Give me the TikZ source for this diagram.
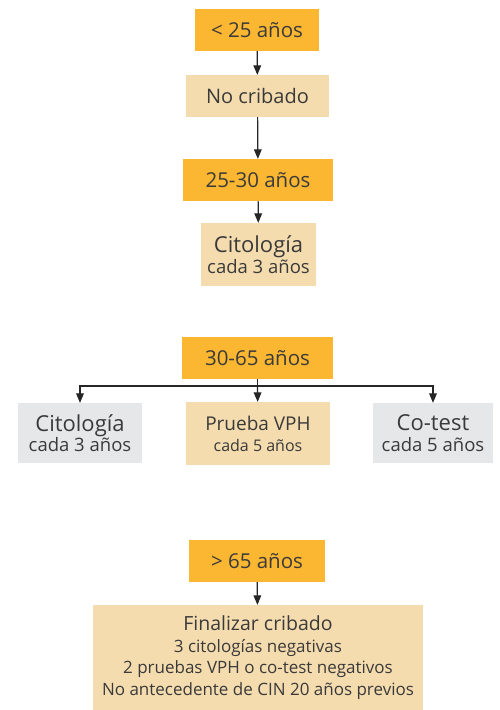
\documentclass[tikz,border=0pt]{standalone}
\usepackage{fontspec}
\setmainfont{Open Sans}
\usepackage{tikz}
\usetikzlibrary{positioning,shapes,arrows}
\usepackage{xcolor}
\definecolor{edad}{HTML}{FBB731}
\definecolor{crema}{HTML}{F4DCAF}
\definecolor{gris}{HTML}{E6E7E8}
\definecolor{texto}{HTML}{3A3A3A}
\tikzstyle{age}=[rectangle, fill=edad, text=texto, inner sep=0pt, minimum height=42pt,
font=\fontsize{20.5}{22}\selectfont]
\tikzstyle{result}=[rectangle, fill=crema, text=texto, inner sep=0pt, align=center]
\tikzstyle{option}=[rectangle, fill=gris, text=texto, inner sep=0pt, align=center]
\tikzstyle{link}=[draw=black!85, line width=1.2pt, -triangle 45]

\begin{document}
\begin{tikzpicture}[x=1pt, y=-1pt]
            \useasboundingbox (0,0) rectangle (499,710);
            \node (1)[age, minimum width=124pt] at (257,30) {< 25 años};
            \node (2)[result, minimum width=143pt, minimum height=42pt,
                font=\fontsize{20}{22}\selectfont] at (257.5,96) {No cribado};
            \node (3)[age, minimum width=150pt] at (258,180) {25-30 años};
            \node (4)[result, minimum width=115pt, minimum height=63pt,
                font=\fontsize{18.5}{20.5}\selectfont] at (258.5,254.5)
                {{\fontsize{22}{20.5}\selectfont Citología}\\ cada 3 años};
            \node (5)[age, minimum width=151pt] at (257.5,358) {30-65 años};
            \node (6)[option, minimum width=124pt, minimum height=60pt,
                font=\fontsize{18.5}{20.5}\selectfont] at (80,433)
                {{\fontsize{22}{20.5}\selectfont Citología}\\ cada 3 años};
            \node (7)[result, minimum width=144pt, minimum height=63pt,
                font=\fontsize{16}{21}\selectfont] at (258,433.5)
                {{\fontsize{19}{21}\selectfont Prueba VPH}\\ cada 5 años};
            \node (8)[option, minimum width=120pt, minimum height=60pt,
                font=\fontsize{18.5}{20.5}\selectfont] at (433,433)
                {{\fontsize{22}{20.5}\selectfont Co-test}\\ cada 5 años};
            \node (9)[age, minimum width=136pt] at (257,561) {> 65 años};
            \node (10)[result, minimum width=330pt, minimum height=105pt,
                font=\fontsize{17}{21.5}\selectfont] at (258,657.5)
                {{\fontsize{19.5}{21.5}\selectfont Finalizar cribado}\\
                 3 citologías negativas\\
                 2 pruebas VPH o co-test negativos\\
                 No antecedente de CIN 20 años previos};

            % flechas
            \draw[link] (1) -- (2);
            \draw[link] (2) -- (3);
            \draw[link] (3) -- (4);
            \coordinate (r) at (257.5,386);
            \draw[draw=black!85, line width=1.2pt] (5) -- (r);
            \draw[link] (r) -| (6);
            \draw[link] (r) -- (7);
            \draw[link] (r) -| (8);
            \draw[link] (9) -- (10);
        \end{tikzpicture}
\end{document}
